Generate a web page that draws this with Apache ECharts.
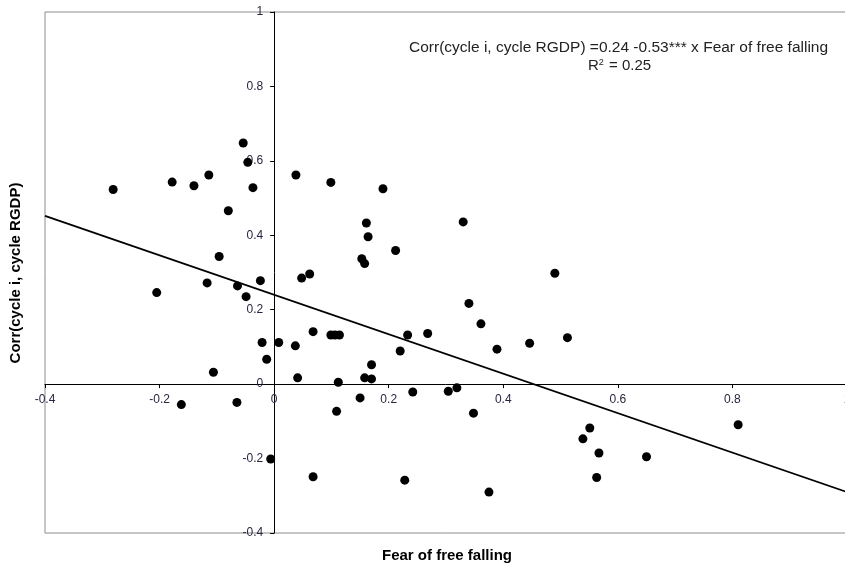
<!DOCTYPE html>
<html>
<head>
<meta charset="utf-8">
<script src="https://cdn.jsdelivr.net/npm/echarts@6/dist/echarts.min.js"></script>
<style>
  html, body { margin: 0; padding: 0; background: #fff; }
  #chart-container { width: 845px; height: 564px; }
</style>
</head>
<body>
<div id="chart-container"></div>
<script>
// fear of free falling (x) and corr(cycle i, cycle RGDP) (y)
var fearOfFreeFalling = [
  -0.281, -0.178, -0.140, -0.114, -0.054, -0.046, -0.037, 0.038, -0.080, -0.096,
  -0.117, -0.205, -0.064, -0.024, -0.049, -0.021, 0.008, 0.037, -0.013, -0.106,
  0.048, 0.062, 0.099, 0.190, 0.161, 0.164, 0.212, 0.153, 0.158, 0.330,
  0.340, 0.361, 0.389, 0.446, 0.268, 0.233, 0.220, 0.068, 0.099, 0.106,
  0.114, 0.170, 0.041, 0.158, 0.170, 0.112, -0.162, -0.065, 0.109, 0.150,
  0.242, -0.006, 0.068, 0.228, 0.304, 0.319, 0.348, 0.375, 0.551, 0.539,
  0.567, 0.563, 0.650, 0.810, 0.490, 0.512
];
var corrCycle = [
  0.523, 0.543, 0.533, 0.562, 0.648, 0.596, 0.528, 0.562, 0.466, 0.343,
  0.272, 0.246, 0.264, 0.278, 0.235, 0.112, 0.112, 0.103, 0.067, 0.032,
  0.285, 0.296, 0.542, 0.525, 0.433, 0.396, 0.359, 0.337, 0.324, 0.436,
  0.217, 0.162, 0.094, 0.110, 0.136, 0.132, 0.089, 0.141, 0.132, 0.132,
  0.132, 0.052, 0.017, 0.017, 0.014, 0.005, -0.055, -0.049, -0.073, -0.037,
  -0.021, -0.201, -0.249, -0.258, -0.019, -0.010, -0.078, -0.290, -0.118, -0.147,
  -0.185, -0.251, -0.195, -0.109, 0.298, 0.125
];

// regression: y = 0.24 - 0.53 x
var intercept = 0.24;
var slope = -0.53;
var xRange = [-0.4, 1.0];
var yRange = [-0.4, 1.0];

var points = fearOfFreeFalling.map(function (x, i) {
  return [x, corrCycle[i]];
});
var fitLine = xRange.map(function (x) {
  return [x, intercept + slope * x];
});

var gridLeft = 45, gridTop = 12, gridW = 802, gridH = 521;
// axes cross at zero, so shift them (line, ticks and labels together) into the plot
var xAxisOffset = -gridH * (0 - yRange[0]) / (yRange[1] - yRange[0]);
var yAxisOffset = -gridW * (0 - xRange[0]) / (xRange[1] - xRange[0]);

var dom = document.getElementById('chart-container');
var myChart = echarts.init(dom, null, { renderer: 'canvas' });

var labelStyle = {
  color: '#262640',
  fontFamily: 'Liberation Sans',
  fontSize: 12,
  showMinLabel: true,
  showMaxLabel: true,
  formatter: function (v) { return String(Math.round(v * 10) / 10); }
};

var option = {
  animation: false,
  backgroundColor: '#fff',
  grid: {
    left: gridLeft,
    top: gridTop,
    width: gridW,
    height: gridH,
    outerBoundsMode: 'none',
    containLabel: false,
    show: true,
    borderColor: '#8c8c8c',
    borderWidth: 1
  },
  xAxis: {
    type: 'value',
    min: xRange[0],
    max: xRange[1],
    interval: 0.2,
    offset: xAxisOffset,
    splitLine: { show: false },
    axisLine: { onZero: false, lineStyle: { color: '#000', width: 1 } },
    axisTick: { show: true, length: 4, lineStyle: { color: '#000' } },
    axisLabel: Object.assign({ margin: 10 }, labelStyle)
  },
  yAxis: {
    type: 'value',
    min: yRange[0],
    max: yRange[1],
    interval: 0.2,
    offset: yAxisOffset,
    splitLine: { show: false },
    axisLine: { onZero: false, lineStyle: { color: '#000', width: 1 } },
    axisTick: { show: true, length: 4, lineStyle: { color: '#000' } },
    axisLabel: Object.assign({ margin: 11 }, labelStyle)
  },
  graphic: [
    {
      type: 'text',
      left: 409,
      top: 40,
      style: {
        text: 'Corr(cycle i, cycle RGDP) =0.24 -0.53*** x Fear of free falling',
        fill: '#222',
        font: '15.5px "Liberation Sans"'
      }
    },
    {
      type: 'text',
      left: 588,
      top: 58,
      style: {
        text: 'R{sup|2} = 0.25',
        fill: '#222',
        font: '15px "Liberation Sans"',
        rich: {
          sup: { fontSize: 9, verticalAlign: 'top', padding: [0, 1, 7, 0], fontFamily: 'Liberation Sans' }
        }
      }
    },
    {
      type: 'text',
      x: 447,
      y: 556,
      style: {
        text: 'Fear of free falling',
        fill: '#000',
        font: 'bold 15px "Liberation Sans"',
        align: 'center',
        verticalAlign: 'middle'
      }
    },
    {
      type: 'text',
      x: 16,
      y: 273,
      rotation: Math.PI / 2,
      style: {
        text: 'Corr(cycle i, cycle RGDP)',
        fill: '#000',
        font: 'bold 15px "Liberation Sans"',
        align: 'center',
        verticalAlign: 'middle'
      }
    }
  ],
  series: [
    {
      type: 'line',
      data: fitLine,
      symbol: 'none',
      lineStyle: { color: '#000', width: 1.8 },
      z: 3
    },
    {
      type: 'scatter',
      data: points,
      symbol: 'circle',
      symbolSize: 9,
      itemStyle: { color: '#000', opacity: 1 },
      z: 4
    }
  ]
};

myChart.setOption(option);
</script>
</body>
</html>
